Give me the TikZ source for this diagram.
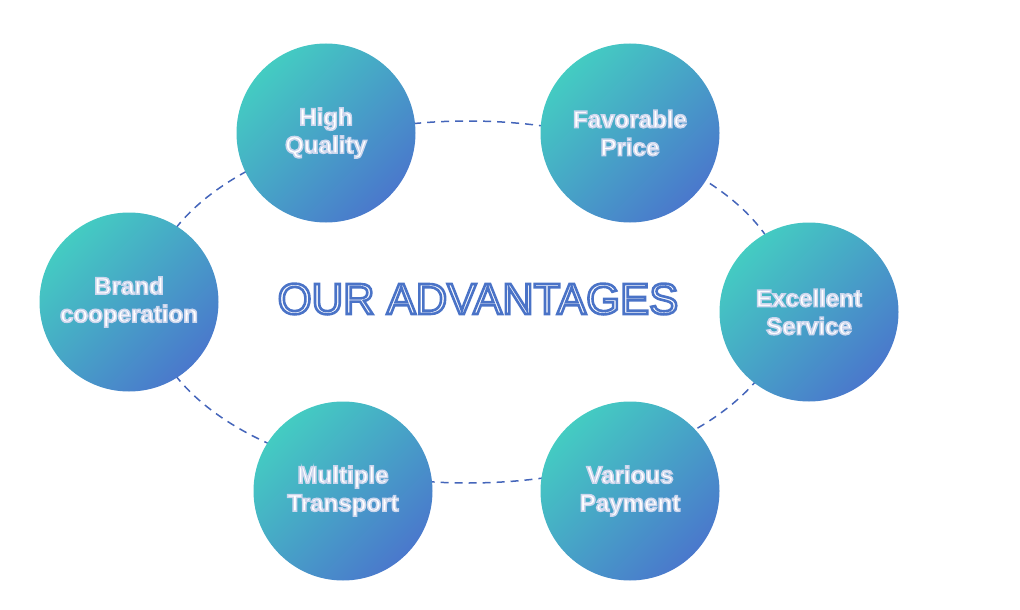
\documentclass[tikz,border=0pt]{standalone}
\usepackage{fontspec}
\setmainfont{Liberation Sans}
\definecolor{cTop}{HTML}{44CCC2}
\definecolor{cMid}{HTML}{47BCC7}
\definecolor{cBot}{HTML}{4A78CC}
\definecolor{ringBlue}{HTML}{4465BA}
% outlined text: white fill, coloured stroke (pdf text render mode 2)
\newcommand{\ctxt}[1]{\textcolor{white}{\special{pdf:literal direct 2 Tr 1.5 w 0.80 0.84 0.93 RG}#1\special{pdf:literal direct 0 Tr}}}
\newcommand{\ttlt}[1]{\textcolor{white}{\special{pdf:literal direct 2 Tr 2.6 w 0.29 0.45 0.78 RG}#1\special{pdf:literal direct 0 Tr}}}
\begin{document}
\begin{tikzpicture}[x=1pt,y=-1pt,
  adv/.style={circle, minimum size=179pt, inner sep=0pt,
    top color=cTop, middle color=cMid, bottom color=cBot, shading angle=45,
    text=white, align=center,
    font=\bfseries\fontsize{24.1}{28}\selectfont},
  ring/.style={draw=ringBlue, line width=1.5pt, dash pattern=on 8pt off 6pt},
  titlestyle/.style={font=\fontsize{43.6}{50}\selectfont, inner sep=0pt}]
\useasboundingbox (0,0) rectangle (1020,610);
% dashed ring behind the circles
\coordinate (ringc) at (468,302);
\draw[ring] (ringc) ellipse [x radius=320pt, y radius=181pt];
% advantage circles
\node[adv] (hq) at (326,133) {\ctxt{High}\\\ctxt{Quality}};
\node[adv] (fp) at (630,133) {\ctxt{Favorable}\\\ctxt{Price}};
\node[adv] (es) at (809,312) {\ctxt{Excellent}\\\ctxt{Service}};
\node[adv] (vp) at (630,491) {\ctxt{Various}\\\ctxt{Payment}};
\node[adv] (mt) at (343,491) {\ctxt{Multiple}\\\ctxt{Transport}};
\node[adv] (bc) at (129,302) {\ctxt{Brand}\\\ctxt{cooperation}};
% title
\node[titlestyle] (title) at (478,299) {\ttlt{OUR ADVANTAGES}};
\end{tikzpicture}
\end{document}
